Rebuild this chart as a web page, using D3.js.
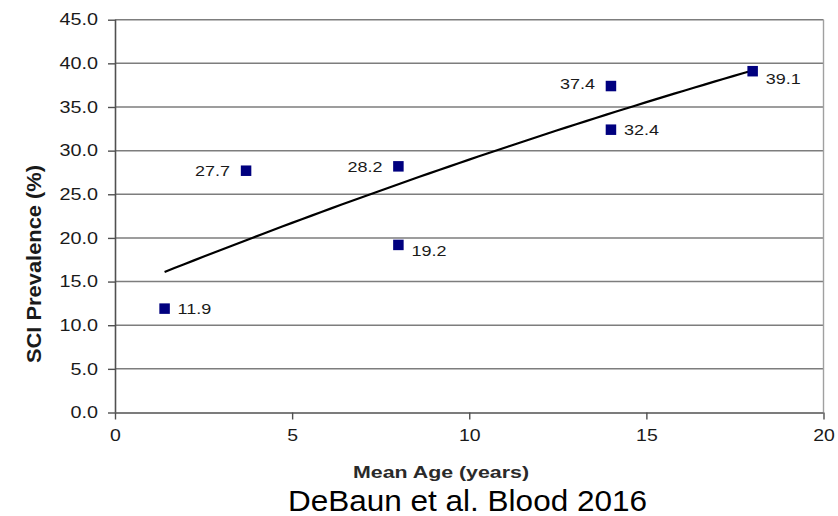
<!DOCTYPE html>
<html>
<head>
<meta charset="utf-8">
<script src="https://cdn.jsdelivr.net/npm/d3@7"></script>
<style>
  html, body { margin: 0; padding: 0; background: #fff; }
  svg { display: block; font-family: "Liberation Sans", Arial, sans-serif; }
</style>
</head>
<body>
<svg id="chart" width="838" height="516"></svg>
<script>
// Mean age of each cohort (years) and silent cerebral infarct prevalence (%)
const meanAge = [1.4, 3.7, 8.0, 8.0, 14.0, 14.0, 18.0];
const sciPrevalence = [11.9, 27.7, 28.2, 19.2, 37.4, 32.4, 39.1];
const xTicks = [0, 5, 10, 15, 20];
const yTicks = [0, 5, 10, 15, 20, 25, 30, 35, 40, 45];
const xTitle = "Mean Age (years)";
const yTitle = "SCI Prevalence (%)";
const caption = "DeBaun et al. Blood 2016";

const svg = d3.select("#chart");
const plotLeft = 115, plotRight = 823.5, plotTop = 19.7, plotBottom = 412.5;

const x = d3.scaleLinear().domain([0, 20]).range([plotLeft, plotRight]);
const y = d3.scaleLinear().domain([0, 45]).range([plotBottom, plotTop]);

// Horizontal grid lines
svg.append("g")
  .selectAll("line")
  .data(yTicks.filter(t => t > 0))
  .join("line")
  .attr("x1", plotLeft).attr("x2", plotRight)
  .attr("y1", d => y(d)).attr("y2", d => y(d))
  .attr("stroke", "#7d7d7d").attr("stroke-width", 1.5);

// Right frame edge
svg.append("line")
  .attr("x1", plotRight).attr("x2", plotRight)
  .attr("y1", plotTop).attr("y2", plotBottom)
  .attr("stroke", "#a0a0a0").attr("stroke-width", 1.4);

// Axes
const yAxis = svg.append("g")
  .attr("transform", `translate(${plotLeft},0)`)
  .call(d3.axisLeft(y).tickValues(yTicks).tickFormat(d3.format(".1f")).tickSize(7).tickPadding(10));
const xAxis = svg.append("g")
  .attr("transform", `translate(0,${plotBottom})`)
  .call(d3.axisBottom(x).tickValues(xTicks).tickFormat(d3.format("d")).tickSize(7).tickPadding(10));

[yAxis, xAxis].forEach(ax => {
  ax.select(".domain").attr("stroke", "#505050").attr("stroke-width", 1.6);
  ax.selectAll(".tick line").attr("stroke", "#505050").attr("stroke-width", 1.4);
  ax.selectAll(".tick text")
    .attr("fill", "#1a1a1a")
    .style("font-size", "16.5px")
    .style("font-family", "'Liberation Sans', Arial, sans-serif");
});
xAxis.select(".domain").attr("d", `M${plotLeft},0.5H${plotRight}`);
yAxis.select(".domain").attr("d", `M0.5,${plotTop}V${plotBottom}`);

// Quadratic least-squares trend line through the points
function quadFit(xs, ys) {
  const n = xs.length;
  const s = k => d3.sum(xs, v => Math.pow(v, k));
  const t = k => d3.sum(xs, (v, i) => Math.pow(v, k) * ys[i]);
  const A = [[n, s(1), s(2)], [s(1), s(2), s(3)], [s(2), s(3), s(4)]];
  const b = [t(0), t(1), t(2)];
  for (let i = 0; i < 3; i++) {
    for (let j = i + 1; j < 3; j++) {
      const f = A[j][i] / A[i][i];
      for (let k = i; k < 3; k++) A[j][k] -= f * A[i][k];
      b[j] -= f * b[i];
    }
  }
  const c = [0, 0, 0];
  for (let i = 2; i >= 0; i--) {
    let acc = b[i];
    for (let k = i + 1; k < 3; k++) acc -= A[i][k] * c[k];
    c[i] = acc / A[i][i];
  }
  return v => c[0] + c[1] * v + c[2] * v * v;
}
const fit = quadFit(meanAge, sciPrevalence);
const [ageMin, ageMax] = d3.extent(meanAge);
const curve = d3.range(0, 61).map(i => {
  const v = ageMin + (ageMax - ageMin) * i / 60;
  return [v, fit(v)];
});
svg.append("path")
  .datum(curve)
  .attr("fill", "none")
  .attr("stroke", "#000")
  .attr("stroke-width", 2.2)
  .attr("d", d3.line().x(d => x(d[0])).y(d => y(d[1])));

// Markers
const points = meanAge.map((a, i) => ({ age: a, value: sciPrevalence[i] }));
const sq = 10.5;
svg.append("g")
  .selectAll("rect")
  .data(points)
  .join("rect")
  .attr("x", d => x(d.age) - sq / 2)
  .attr("y", d => y(d.value) - sq / 2)
  .attr("width", sq).attr("height", sq)
  .attr("fill", "#00007f");

// Value labels: which side of the marker each sits on, and a small vertical nudge
const labelSide = ["right", "left", "left", "right", "left", "right", "right"];
const labelNudge = [0, 0, 0, 6, -3, 0, 7];
const valueLabels = svg.append("g")
  .selectAll("text")
  .data(points)
  .join("text")
  .attr("x", (d, i) => x(d.age) + (labelSide[i] === "right" ? 13 : -16))
  .attr("y", (d, i) => y(d.value) + labelNudge[i] + 5.5)
  .attr("text-anchor", (d, i) => labelSide[i] === "right" ? "start" : "end")
  .attr("fill", "#1a1a1a")
  .style("font-size", "15.5px")
  .text(d => d.value.toFixed(1));

// Widen horizontal text the way the chart's typeface is set
function widen(sel, k) {
  sel.each(function () {
    const len = this.getComputedTextLength();
    d3.select(this).attr("textLength", len * k).attr("lengthAdjust", "spacingAndGlyphs");
  });
}
widen(yAxis.selectAll(".tick text"), 1.2);
widen(xAxis.selectAll(".tick text"), 1.18);
widen(valueLabels, 1.16);

// Axis titles
svg.append("text")
  .attr("x", 441).attr("y", 478)
  .attr("text-anchor", "middle")
  .attr("fill", "#2a2a2a")
  .attr("font-weight", "bold")
  .attr("textLength", 176).attr("lengthAdjust", "spacingAndGlyphs")
  .style("font-size", "16px")
  .text(xTitle);

svg.append("text")
  .attr("transform", "translate(41,264) rotate(-90) scale(1,1.2)")
  .attr("text-anchor", "middle")
  .attr("fill", "#1a1a1a")
  .attr("font-weight", "bold")
  .attr("textLength", 198).attr("lengthAdjust", "spacingAndGlyphs")
  .style("font-size", "17px")
  .text(yTitle);

// Source caption
svg.append("text")
  .attr("x", 467.5).attr("y", 511)
  .attr("text-anchor", "middle")
  .attr("fill", "#000")
  .attr("textLength", 359).attr("lengthAdjust", "spacingAndGlyphs")
  .style("font-size", "29px")
  .text(caption);
</script>
</body>
</html>
